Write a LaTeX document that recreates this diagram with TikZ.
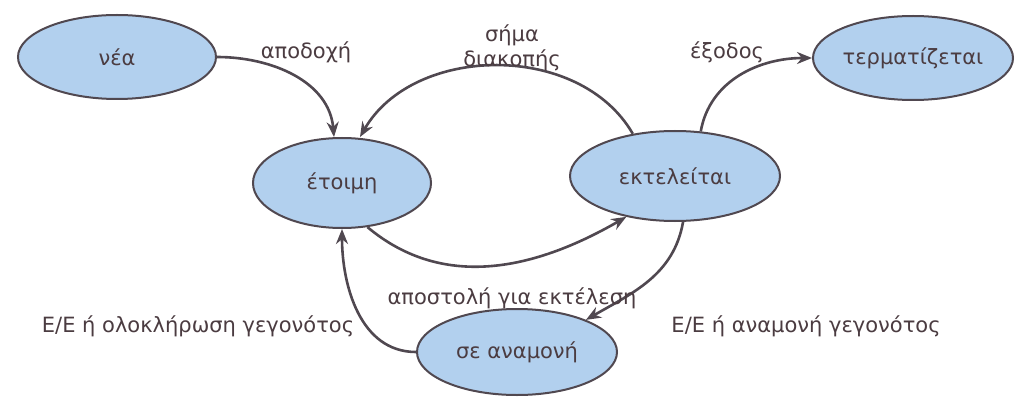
\documentclass[tikz,border=0pt]{standalone}
\usepackage{fontspec}
\setmainfont{DejaVu Sans}
\usetikzlibrary{arrows.meta,shapes.geometric}
\definecolor{fillb}{RGB}{178,208,238}
\definecolor{edgec}{RGB}{80,72,80}
\definecolor{txt}{RGB}{75,60,65}
\tikzset{
 st/.style={ellipse,draw=edgec,line width=2pt,fill=fillb,text=txt,font=\fontsize{21}{24}\selectfont,inner sep=0pt},
 tr/.style={draw=edgec,line width=2.6pt,-{Stealth[length=15pt,width=12pt]}},
 lb/.style={text=txt,font=\fontsize{21}{25}\selectfont,align=center}
}
\begin{document}
\begin{tikzpicture}[x=1pt,y=-1pt]
\useasboundingbox[fill=white] (0,0) rectangle (1024,414);
\node[st,minimum width=198pt,minimum height=84pt] (nea) at (117,57) {νέα};
\node[st,minimum width=200pt,minimum height=84pt] (term) at (913,58) {τερματίζεται};
\node[st,minimum width=178pt,minimum height=90pt] (et) at (342,183) {έτοιμη};
\node[st,minimum width=210pt,minimum height=90pt] (ek) at (675,176) {εκτελείται};
\node[st,minimum width=200pt,minimum height=86pt] (an) at (517,352) {σε αναμονή};
\draw[tr] (nea.east) to[out=0,in=95] ([xshift=-8pt]et.north);
\draw[tr] (ek.135) to[out=120,in=60] ([xshift=18pt]et.north);
\draw[tr] (et.-60) to[out=-40,in=-150] (ek.-140);
\draw[tr] (ek.60) to[out=80,in=180] (term.west);
\draw[tr] (ek.-80) to[out=-100,in=30] (an.25);
\draw[tr] (an.west) to[out=180,in=-90] (et.south);
\node[lb] (l1) at (306,52) {αποδοχή};
\node[lb] (l2) at (512,48) {σήμα\\διακοπής};
\node[lb] (l3) at (727,52) {έξοδος};
\node[lb] (l4) at (512,298) {αποστολή για εκτέλεση};
\node[lb] (l5) at (806,326) {Ε/Ε ή αναμονή γεγονότος};
\node[lb] (l6) at (198,326) {Ε/Ε ή ολοκλήρωση γεγονότος};
\end{tikzpicture}
\end{document}
